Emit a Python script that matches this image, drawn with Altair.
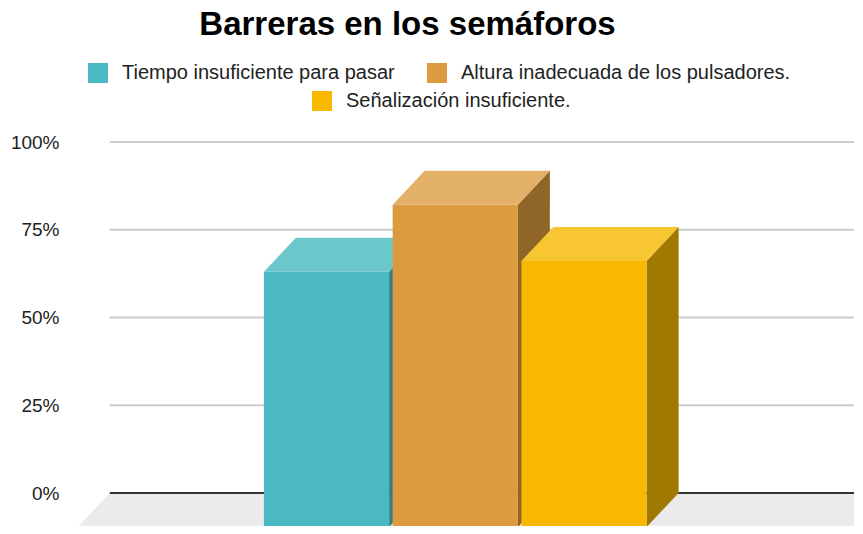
import altair as alt
import pandas as pd

# ---- data ----
categories = ["Tiempo insuficiente para pasar",
              "Altura inadecuada de los pulsadores.",
              "Señalización insuficiente."]
values = [72.7, 91.8, 75.8]
front_colors = ["#4ab9c2", "#db9b3e", "#f9b800"]
top_colors = ["#6ac8cb", "#e2b066", "#f9c633"]
side_colors = ["#2e8087", "#8f6528", "#a07a00"]
tick_values = [0, 25, 50, 75, 100]

# ---- layout constants (pixels -> data units) ----
PX_PER_UNIT = 128.75
PX_PER_PCT = 3.51
W, H = 785, 396
BAR_W = 125.2 / PX_PER_UNIT
DX = 32 / PX_PER_UNIT
DY = 34 / PX_PER_PCT
FLOOR_DY = 41 / PX_PER_PCT
FLOOR_DX = 38.6 / PX_PER_UNIT
X_DOMAIN = [-2, -2 + W / PX_PER_UNIT]
Y_DOMAIN = [-(33 / PX_PER_PCT), 363 / PX_PER_PCT]
BACK_LEFT = (110 - 326.7) / PX_PER_UNIT
BACK_RIGHT = X_DOMAIN[1] + 1

xs = alt.Scale(domain=X_DOMAIN, nice=False, zero=False)
ys = alt.Scale(domain=Y_DOMAIN, nice=False, zero=False)
y_axis = alt.Axis(values=tick_values, labelExpr="datum.value + '%'", title=None,
                  grid=False, ticks=False, tickSize=0, domain=False,
                  labelFontSize=19, labelFont="Liberation Sans", labelColor="#222222",
                  labelPadding=10)

# floor
floor_df = pd.DataFrame({
    "y": [0, -FLOOR_DY],
    "xa": [BACK_LEFT, BACK_LEFT - FLOOR_DX],
    "xb": [BACK_RIGHT, BACK_RIGHT - FLOOR_DX],
})
floor = alt.Chart(floor_df).mark_area(orient="horizontal", color="#ebebeb", clip=True).encode(
    y=alt.Y("y:Q", scale=ys, axis=y_axis),
    x=alt.X("xa:Q", scale=xs, axis=None),
    x2="xb:Q",
)

grid_df = pd.DataFrame({"v": [t for t in tick_values if t > 0],
                        "xa": BACK_LEFT, "xb": BACK_RIGHT})
grid = alt.Chart(grid_df).mark_rule(color="#cccccc", strokeWidth=2, clip=True).encode(
    y=alt.Y("v:Q", scale=ys, axis=y_axis),
    x=alt.X("xa:Q", scale=xs, axis=None),
    x2="xb:Q",
)
zero_df = pd.DataFrame({"v": [0], "xa": [BACK_LEFT], "xb": [BACK_RIGHT]})
zero = alt.Chart(zero_df).mark_rule(color="#333333", strokeWidth=2, clip=True).encode(
    y=alt.Y("v:Q", scale=ys, axis=y_axis),
    x=alt.X("xa:Q", scale=xs, axis=None),
    x2="xb:Q",
)

legend_common = dict(title=None, orient="none", direction="horizontal",
                     symbolType="square", symbolSize=400, symbolStrokeWidth=0,
                     labelFontSize=20, labelFont="Liberation Sans", labelColor="#222222",
                     labelOffset=14, columnPadding=32, padding=0, labelLimit=0)

layers = [floor, grid, zero]
for i, (cat, v) in enumerate(zip(categories, values)):
    c = i * 1.0
    l, r = c - BAR_W / 2, c + BAR_W / 2
    side_df = pd.DataFrame({"x": [r, r + DX], "ya": [-DY, 0], "yb": [v - DY, v]})
    side = alt.Chart(side_df).mark_area(orient="vertical", color=side_colors[i], clip=True).encode(
        x=alt.X("x:Q", scale=xs, axis=None),
        y=alt.Y("ya:Q", scale=ys, axis=y_axis),
        y2="yb:Q",
    )
    front_df = pd.DataFrame({"cat": [cat], "xa": [l], "xb": [r], "ya": [-DY], "yb": [v - DY]})
    if i < 2:
        col = alt.Color("cat:N",
                        scale=alt.Scale(domain=categories[:2], range=front_colors[:2]),
                        legend=alt.Legend(legendX=19, legendY=-67, **legend_common))
        front = alt.Chart(front_df).mark_rect(clip=True).encode(
            x=alt.X("xa:Q", scale=xs, axis=None), x2="xb:Q",
            y=alt.Y("ya:Q", scale=ys, axis=y_axis), y2="yb:Q",
            color=col,
        )
    else:
        fil = alt.Fill("cat:N",
                       scale=alt.Scale(domain=categories[2:], range=front_colors[2:]),
                       legend=alt.Legend(legendX=243, legendY=-39, **legend_common))
        front = alt.Chart(front_df).mark_rect(clip=True).encode(
            x=alt.X("xa:Q", scale=xs, axis=None), x2="xb:Q",
            y=alt.Y("ya:Q", scale=ys, axis=y_axis), y2="yb:Q",
            fill=fil,
        )
    top_df = pd.DataFrame({"y": [v - DY, v], "xa": [l, l + DX], "xb": [r, r + DX]})
    top = alt.Chart(top_df).mark_area(orient="horizontal", color=top_colors[i], clip=True).encode(
        y=alt.Y("y:Q", scale=ys, axis=y_axis),
        x=alt.X("xa:Q", scale=xs, axis=None),
        x2="xb:Q",
    )
    layers += [side, front, top]

chart = alt.layer(*layers).properties(
    width=W, height=H,
    title=alt.TitleParams("Barreras en los semáforos", fontSize=33, fontWeight="bold",
                          font="Liberation Sans", color="#000000", anchor="middle",
                          frame="group", dx=-54, dy=30, offset=25, baseline="alphabetic"),
    autosize=alt.AutoSizeParams(type="none"),
    padding={"left": 61, "top": 122, "right": 1, "bottom": 0},
    background="white",
).configure_view(strokeWidth=0)

chart.save("out.html", embed_options={"renderer": "svg", "actions": False})
